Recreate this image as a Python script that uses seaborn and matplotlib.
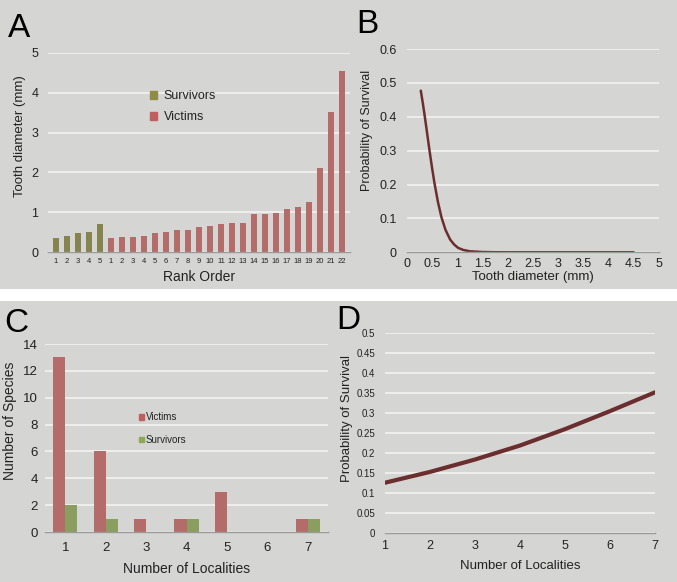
import numpy as np
import pandas as pd
import matplotlib
matplotlib.use('Agg')
import matplotlib.pyplot as plt
from matplotlib.patches import Rectangle
import seaborn as sns

# panel A: tooth diameters in rank order
survivor_diam = [0.34, 0.41, 0.48, 0.50, 0.70]
victim_diam = [0.34, 0.38, 0.38, 0.40, 0.48, 0.51, 0.56, 0.56, 0.62, 0.66, 0.70,
               0.72, 0.72, 0.95, 0.96, 0.98, 1.09, 1.14, 1.25, 2.11, 3.51, 4.55]
rank_labels = [str(i) for i in range(1, 6)] + [str(i) for i in range(1, 23)]

# panel B: survival curve vs tooth diameter
tooth_x = [0.28, 0.32, 0.36, 0.40, 0.45, 0.50, 0.55, 0.62, 0.69, 0.77, 0.86, 0.94,
           1.02, 1.12, 1.25, 1.5, 1.75, 2.0, 3.0, 4.5]
tooth_p = [0.477, 0.440, 0.400, 0.357, 0.303, 0.252, 0.205, 0.148, 0.103, 0.066,
           0.038, 0.023, 0.013, 0.007, 0.003, 0.0008, 0.0002, 0.0, 0.0, 0.0]

# panel C: number of species by number of localities
localities = [1, 2, 3, 4, 5, 6, 7]
victims_count = [13, 6, 1, 1, 3, 0, 1]
survivors_count = [2, 1, 0, 1, 0, 0, 1]

# panel D: survival vs number of localities
loc_x = [1, 2, 3, 4, 5, 6, 7]
loc_p = [0.125, 0.152, 0.183, 0.218, 0.259, 0.304, 0.351]

BG = '#d5d5d3'
OLIVE = '#8f8c45'
RED = '#c0605e'
GREEN = '#8ea855'
CURVE = '#6b2e2e'
TXT = '#222222'

sns.set_theme(style='white')
plt.rcParams['font.family'] = ['Liberation Sans', 'DejaVu Sans']

fig = plt.figure(figsize=(6.77, 5.82), dpi=100, facecolor='white')
fig.patches.append(Rectangle((0, 0.5034), 1, 0.4966, transform=fig.transFigure,
                             facecolor=BG, edgecolor='none', zorder=-10))
fig.patches.append(Rectangle((0, 0), 1, 0.4828, transform=fig.transFigure,
                             facecolor=BG, edgecolor='none', zorder=-10))


def style_ax(ax, ysize=9):
    ax.set_facecolor('none')
    for s in ['top', 'right', 'left']:
        ax.spines[s].set_visible(False)
    ax.spines['bottom'].set_color('#9a9a9a')
    ax.spines['bottom'].set_linewidth(1.0)
    ax.yaxis.grid(True, color='#f2f2f0', linewidth=1.2)
    ax.xaxis.grid(False)
    ax.set_axisbelow(True)
    ax.tick_params(axis='y', length=0, labelsize=ysize, labelcolor=TXT, pad=7)


# ---- A ----
axA = fig.add_axes([0.0709, 0.567, 0.446, 0.342])
dfA = pd.DataFrame({
    'pos': list(range(len(rank_labels))),
    'diam': survivor_diam + victim_diam,
    'group': ['Survivors'] * len(survivor_diam) + ['Victims'] * len(victim_diam),
})
sns.barplot(data=dfA, x='pos', y='diam', hue='group', dodge=False, width=0.55,
            palette={'Survivors': OLIVE, 'Victims': RED}, ax=axA, legend=False,
            linewidth=0, edgecolor='none')
style_ax(axA)
axA.set_ylim(0, 5)
axA.set_yticks([0, 1, 2, 3, 4, 5])
axA.set_xlim(-0.7, len(rank_labels) - 0.3)
axA.set_xticks(range(len(rank_labels)))
axA.set_xticklabels(rank_labels)
axA.tick_params(axis='x', length=0, labelsize=5.5, labelcolor=TXT, pad=4)
axA.set_xticks(np.arange(-0.5, len(rank_labels), 1), minor=True)
axA.tick_params(axis='x', which='minor', length=2, color='#9a9a9a', direction='out')
axA.set_xlabel('Rank Order', fontsize=10, color=TXT, labelpad=4)
axA.set_ylabel('Tooth diameter (mm)', fontsize=9.5, color=TXT)
axA.yaxis.set_label_coords(-0.072, 0.58)
hA = [Rectangle((0, 0), 1, 1, color=OLIVE), Rectangle((0, 0), 1, 1, color=RED)]
axA.legend(hA, ['Survivors', 'Victims'], loc='center left', bbox_to_anchor=(0.3, 0.73),
           frameon=False, fontsize=9, handlelength=0.6, handleheight=0.6,
           handletextpad=0.5, labelspacing=0.7, labelcolor=TXT)
fig.text(0.012, 0.936, 'A', fontsize=24, color='black')

# ---- B ----
axB = fig.add_axes([0.6007, 0.5665, 0.3727, 0.3493])
sns.lineplot(x=tooth_x, y=tooth_p, color=CURVE, linewidth=1.8, ax=axB)
style_ax(axB)
axB.set_ylim(0, 0.6)
axB.set_yticks([0, 0.1, 0.2, 0.3, 0.4, 0.5, 0.6])
axB.set_yticklabels(['0', '0.1', '0.2', '0.3', '0.4', '0.5', '0.6'])
axB.set_xlim(0, 5)
xt = np.arange(0, 5.01, 0.5)
axB.set_xticks(xt)
axB.set_xticklabels(['0', '0.5', '1', '1.5', '2', '2.5', '3', '3.5', '4', '4.5', '5'])
axB.tick_params(axis='x', length=3, color='#9a9a9a', direction='out', labelsize=9,
                labelcolor=TXT, pad=1)
axB.set_xlabel('Tooth diameter (mm)', fontsize=9.5, color=TXT, labelpad=1)
axB.set_ylabel('Probability of Survival', fontsize=9, color=TXT)
axB.yaxis.set_label_coords(-0.135, 0.6)
fig.text(0.526, 0.944, 'B', fontsize=24, color='black')

# ---- C ----
axC = fig.add_axes([0.0665, 0.0859, 0.418, 0.323])
dfC = pd.DataFrame({
    'loc': localities * 2,
    'count': victims_count + survivors_count,
    'group': ['Victims'] * len(localities) + ['Survivors'] * len(localities),
})
sns.barplot(data=dfC, x='loc', y='count', hue='group', width=0.6, gap=0,
            palette={'Victims': RED, 'Survivors': GREEN}, ax=axC, legend=False,
            linewidth=0, edgecolor='none')
style_ax(axC, ysize=9.5)
axC.tick_params(axis='y', pad=5)
axC.set_ylim(0, 14)
axC.set_yticks(range(0, 15, 2))
axC.set_xlim(-0.5, 6.5)
axC.set_xticks(np.arange(-0.5, 7, 1), minor=True)
axC.tick_params(axis='x', which='minor', length=3, color='#9a9a9a', direction='out')
axC.tick_params(axis='x', which='major', length=0, labelsize=9.5, labelcolor=TXT, pad=7)
axC.set_xlabel('Number of Localities', fontsize=10, color=TXT, labelpad=6)
axC.set_ylabel('Number of Species', fontsize=10, color=TXT)
axC.yaxis.set_label_coords(-0.1, 0.59)
hC = [Rectangle((0, 0), 1, 1, color=RED), Rectangle((0, 0), 1, 1, color=GREEN)]
axC.legend(hC, ['Victims', 'Survivors'], loc='center left', bbox_to_anchor=(0.3, 0.55),
           frameon=False, fontsize=7, handlelength=0.5, handleheight=0.5,
           handletextpad=0.2, labelspacing=1.3, labelcolor=TXT)
fig.text(0.006, 0.43, 'C', fontsize=24, color='black')

# ---- D ----
axD = fig.add_axes([0.5687, 0.0847, 0.3988, 0.3436])
sns.lineplot(x=loc_x, y=loc_p, color=CURVE, linewidth=3, ax=axD)
style_ax(axD, ysize=7)
axD.set_ylim(0, 0.5)
yd = [0, 0.05, 0.1, 0.15, 0.2, 0.25, 0.3, 0.35, 0.4, 0.45, 0.5]
axD.set_yticks(yd)
axD.set_yticklabels(['0', '0.05', '0.1', '0.15', '0.2', '0.25', '0.3', '0.35', '0.4', '0.45', '0.5'])
axD.set_xlim(1, 7)
axD.set_xticks(range(1, 8))
axD.tick_params(axis='x', length=3, color='#9a9a9a', direction='out', labelsize=9,
                labelcolor=TXT, pad=2)
axD.set_xlabel('Number of Localities', fontsize=9.5, color=TXT, labelpad=6)
axD.set_ylabel('Probability of Survival', fontsize=9.5, color=TXT)
axD.yaxis.set_label_coords(-0.118, 0.57)
fig.text(0.496, 0.434, 'D', fontsize=24, color='black')

fig.savefig('out.png', dpi=100, facecolor='white')
